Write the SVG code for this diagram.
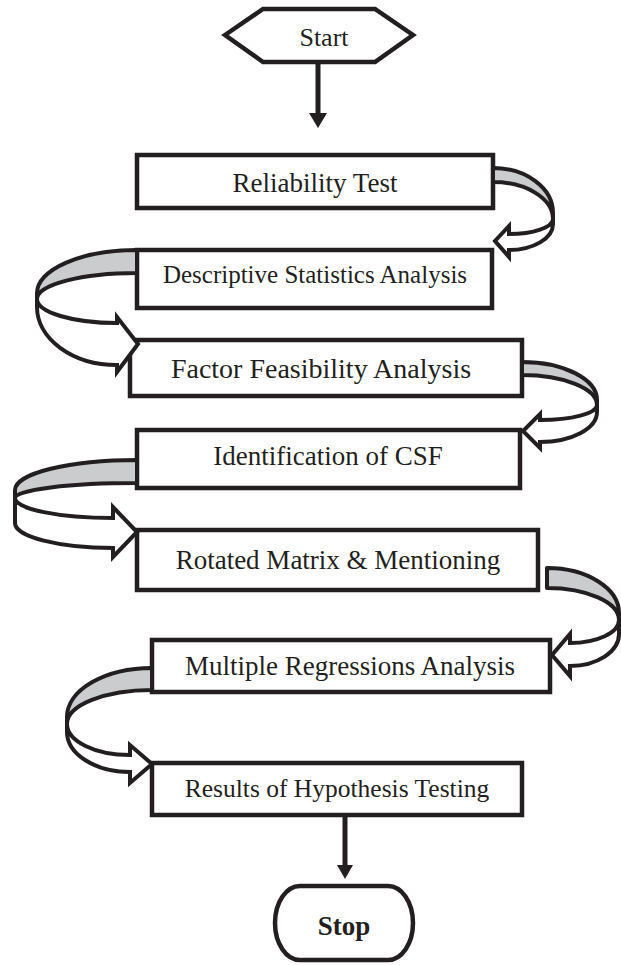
<svg xmlns="http://www.w3.org/2000/svg" width="621" height="965" viewBox="0 0 621 965">
<style>
.box{fill:#fff;stroke:#231f20;stroke-width:4.5}
.t{font-family:"Liberation Serif","Times New Roman",serif;fill:#231f20;text-anchor:middle}
.back{fill:#cbcccd;stroke:#231f20;stroke-width:4;stroke-linejoin:round}
.front{fill:#fff;stroke:#231f20;stroke-width:4;stroke-linejoin:miter;stroke-miterlimit:6}
.ln{stroke:#231f20;stroke-width:5;fill:none}
.hd{fill:#231f20}
</style>
<rect width="621" height="965" fill="#fff"/>
<g id="start">
<polygon class="box" points="225,35 263,9 375,9 413,35 375,62 263,62"/>
<text class="t" x="324" y="46" font-size="26">Start</text>
</g>
<g id="n1"><rect class="box" x="137" y="155" width="356" height="53"/><text class="t" x="315" y="192" font-size="27">Reliability Test</text></g>
<g id="n2"><rect class="box" x="137" y="250" width="355" height="58"/><text class="t" x="315" y="283" font-size="25">Descriptive Statistics Analysis</text></g>
<g id="n3"><rect class="box" x="130" y="340" width="392" height="56"/><text class="t" x="321" y="378" font-size="28">Factor Feasibility Analysis</text></g>
<g id="n4"><rect class="box" x="137" y="430" width="383" height="58"/><text class="t" x="328" y="465" font-size="27">Identification of CSF</text></g>
<g id="n5"><rect class="box" x="137" y="530" width="401" height="60"/><text class="t" x="338" y="569" font-size="27">Rotated Matrix &amp; Mentioning</text></g>
<g id="n6"><rect class="box" x="152" y="640" width="398" height="52"/><text class="t" x="350" y="675" font-size="27">Multiple Regressions Analysis</text></g>
<g id="n7"><rect class="box" x="152" y="763" width="370" height="52"/><text class="t" x="337" y="797" font-size="25.5">Results of Hypothesis Testing</text></g>
<g id="stop">
<path class="box" d="M300,886 L388,886 A25,37 0 0 1 388,960 L300,960 A25,37 0 0 1 300,886 Z"/>
<text class="t" x="344" y="935" font-size="27" font-weight="bold">Stop</text>
</g>
<g id="connectors">
<line class="ln" x1="318" y1="62" x2="318" y2="115"/>
<polygon class="hd" points="309,113 327,113 318,128"/>
<line class="ln" x1="345" y1="815" x2="345" y2="867"/>
<polygon class="hd" points="337,865 353,865 345,879"/>
<path class="back" d="M493,168 A60,45 0 0 1 553,213 L553,219 A60,37 0 0 0 493,182 Z"/>
<path class="front" d="M553,219 A44,15 0 0 1 509,234 L509,226 L495,241 L509,257 L509,250 A44,26 0 0 0 553,224 Z"/>
<path class="back" d="M137,250 A100,43 0 0 0 37,293 L37,299 A100,26 0 0 1 137,273 Z"/>
<path class="front" d="M37,299 A80,24 0 0 0 117,323 L117,317 L138,344 L117,372 L117,365 A80,58 0 0 1 37,307 Z"/>
<path class="back" d="M522,362 A75,38 0 0 1 597,400 L597,405 A75,30 0 0 0 522,375 Z"/>
<path class="front" d="M597,405 A57,15 0 0 1 540,420 L540,414 L523,431 L540,448 L540,442 A57,30 0 0 0 597,412 Z"/>
<path class="back" d="M137,460 A122,30 0 0 0 15,490 L15,498 A122,15 0 0 1 137,483 Z"/>
<path class="front" d="M15,498 A98,20 0 0 0 113,518 L113,507 L137,532 L113,557 L113,548 A98,25 0 0 1 15,523 Z"/>
<path class="back" d="M547,568 A72,45 0 0 1 619,613 L619,620 A72,32 0 0 0 547,588 Z"/>
<path class="front" d="M619,620 A49,23 0 0 1 570,643 L570,634 L552,655 L570,676 L570,666 A49,32 0 0 0 619,634 Z"/>
<path class="back" d="M152,668 A85,49 0 0 0 67,717 L67,724 A85,34 0 0 1 152,690 Z"/>
<path class="front" d="M67,724 A63,31 0 0 0 130,755 L130,745 L152,764 L130,783 L130,772 A63,40 0 0 1 67,732 Z"/>
</g>
</svg>
